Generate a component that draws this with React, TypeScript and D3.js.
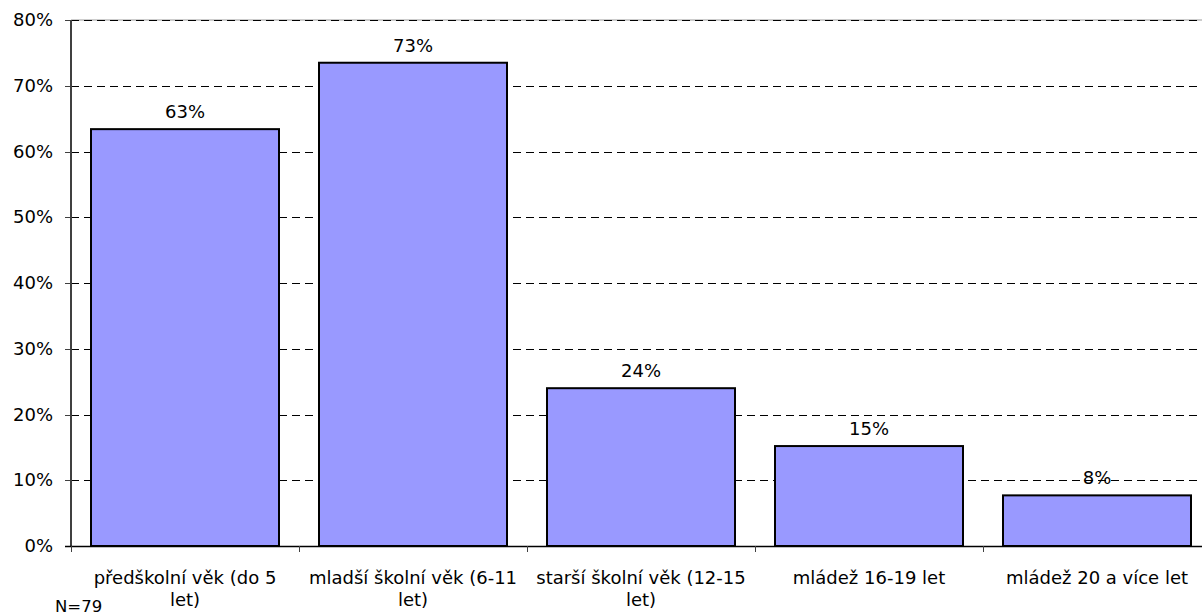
import React, { useEffect, useRef } from 'react';
import * as d3 from 'd3';

// categories are split in lines as in the original (Excel-style wrapping)
const categories: string[][] = [
  ['předškolní věk (do 5', 'let)'],
  ['mladší školní věk (6-11', 'let)'],
  ['starší školní věk (12-15', 'let)'],
  ['mládež 16-19 let'],
  ['mládež 20 a více let'],
];
const values = [0.634, 0.735, 0.24, 0.152, 0.077];
const valueLabels = ['63%', '73%', '24%', '15%', '8%'];
const yTicks = [0, 0.1, 0.2, 0.3, 0.4, 0.5, 0.6, 0.7, 0.8];
const note = 'N=79';

const FONT = '"DejaVu Sans", sans-serif';
const FS = 18;

const App: React.FC = () => {
  const ref = useRef<SVGSVGElement>(null);

  useEffect(() => {
    drawChart();
  }, []);

  const drawChart = () => {
    const svg = d3.select(ref.current);
    svg.selectAll('*').remove();

    const left = 71;
    const top = 20;
    const bottom = 546;
    const bandW = 228;

    const x = d3.scaleBand<number>()
      .domain(d3.range(categories.length))
      .range([left, left + bandW * categories.length])
      .paddingInner(40 / 228)
      .paddingOuter(20 / 228);

    const y = d3.scaleLinear().domain([0, 0.8]).range([bottom, top]);

    // gridlines
    svg.append('line')
      .attr('x1', left).attr('x2', 1202)
      .attr('y1', y(0.8)).attr('y2', y(0.8))
      .attr('stroke', '#9a9a9a').attr('stroke-width', 1);
    svg.append('g')
      .selectAll('line')
      .data(yTicks.filter(t => t > 0))
      .enter().append('line')
      .attr('x1', left).attr('x2', 1202)
      .attr('y1', d => Math.round(y(d)) + 0.5)
      .attr('y2', d => Math.round(y(d)) + 0.5)
      .attr('stroke', '#000')
      .attr('stroke-width', 1)
      .attr('stroke-dasharray', '8,5');

    // bars
    svg.append('g')
      .selectAll('rect')
      .data(values)
      .enter().append('rect')
      .attr('x', (_, i) => x(i) ?? 0)
      .attr('y', d => y(d))
      .attr('width', x.bandwidth())
      .attr('height', d => bottom - y(d))
      .attr('fill', '#9999ff')
      .attr('stroke', '#000')
      .attr('stroke-width', 2);

    // value labels
    svg.append('g')
      .selectAll('text')
      .data(values)
      .enter().append('text')
      .attr('x', (_, i) => (x(i) ?? 0) + x.bandwidth() / 2)
      .attr('y', d => y(d) - 11)
      .attr('text-anchor', 'middle')
      .attr('font-family', FONT)
      .attr('font-size', FS)
      .attr('fill', '#000')
      .text((_, i) => valueLabels[i]);

    // y axis
    svg.append('line')
      .attr('x1', left).attr('x2', left)
      .attr('y1', top).attr('y2', bottom)
      .attr('stroke', '#404040').attr('stroke-width', 2);
    const yt = svg.append('g');
    yt.selectAll('line')
      .data(yTicks)
      .enter().append('line')
      .attr('x1', left - 6).attr('x2', left)
      .attr('y1', d => Math.round(y(d)) + 0.5)
      .attr('y2', d => Math.round(y(d)) + 0.5)
      .attr('stroke', '#404040');
    yt.selectAll('text')
      .data(yTicks)
      .enter().append('text')
      .attr('x', 53)
      .attr('y', d => y(d) + 6)
      .attr('text-anchor', 'end')
      .attr('font-family', FONT)
      .attr('font-size', FS)
      .attr('fill', '#000')
      .text(d => d3.format('.0%')(d));

    // x axis
    svg.append('line')
      .attr('x1', left - 6).attr('x2', 1202)
      .attr('y1', bottom + 0.5).attr('y2', bottom + 0.5)
      .attr('stroke', '#000').attr('stroke-width', 1.5);
    svg.append('g')
      .selectAll('line')
      .data(d3.range(categories.length + 1))
      .enter().append('line')
      .attr('x1', i => left + i * bandW + 0.5)
      .attr('x2', i => left + i * bandW + 0.5)
      .attr('y1', bottom).attr('y2', bottom + 6)
      .attr('stroke', '#404040');

    const xl = svg.append('g')
      .selectAll('text')
      .data(categories)
      .enter().append('text')
      .attr('x', (_, i) => (x(i) ?? 0) + x.bandwidth() / 2)
      .attr('y', 584)
      .attr('text-anchor', 'middle')
      .attr('font-family', FONT)
      .attr('font-size', FS)
      .attr('fill', '#000');
    xl.selectAll('tspan')
      .data(d => d)
      .enter().append('tspan')
      .attr('x', function () {
        return (this.parentNode as SVGTextElement).getAttribute('x');
      })
      .attr('dy', (_, j) => (j === 0 ? 0 : 22))
      .text(d => d);

    svg.append('text')
      .attr('x', 55)
      .attr('y', 612)
      .attr('text-anchor', 'start')
      .attr('font-family', FONT)
      .attr('font-size', 16.5)
      .attr('fill', '#000')
      .text(note);
  };

  return (
    <svg
      ref={ref}
      width={1202}
      height={616}
      style={{ position: 'absolute', left: 0, top: 0, background: '#fff' }}
    />
  );
};

export default App;
